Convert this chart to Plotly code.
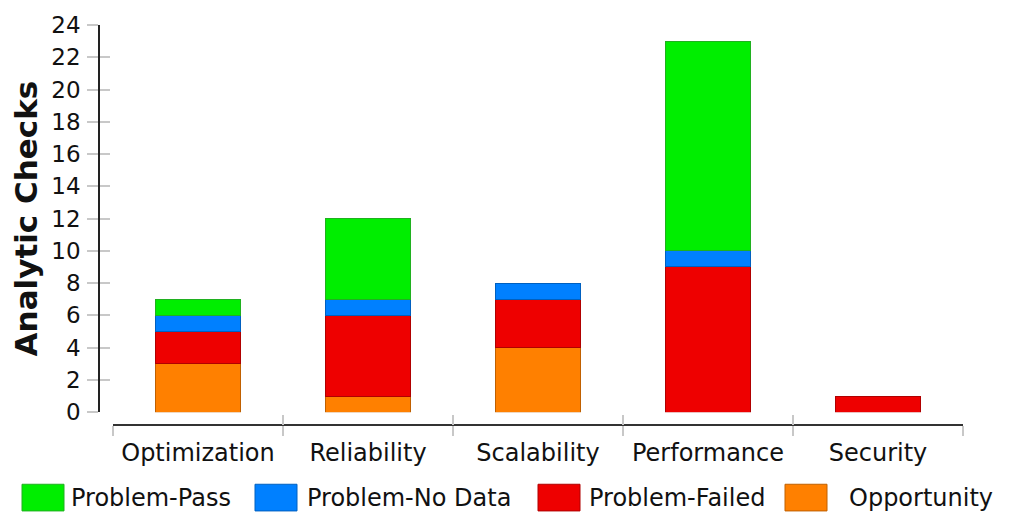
import plotly.graph_objects as go

categories = ["Optimization", "Reliability", "Scalability", "Performance", "Security"]
opportunity = [3, 1, 4, 0, 0]
problem_failed = [2, 5, 3, 9, 1]
problem_no_data = [1, 1, 1, 1, 0]
problem_pass = [1, 5, 0, 13, 0]

series_names = ["Opportunity", "Problem-Failed", "Problem-No Data", "Problem-Pass"]
series_values = [opportunity, problem_failed, problem_no_data, problem_pass]
series_colors = ["#FF8000", "#EE0000", "#0080FF", "#00EE00"]
series_edges = ["#C06000", "#B00000", "#0060C0", "#20B020"]
legend_order = ["Problem-Pass", "Problem-No Data", "Problem-Failed", "Opportunity"]
y_ticks = list(range(0, 25, 2))

W, H = 1010, 518
ML, MR, MT, MB = 99, 47, 20, 93
PW, PH = W - ML - MR, H - MT - MB

FONT = "DejaVu Sans"

fig = go.Figure()
for name, vals, col, edge in zip(series_names, series_values, series_colors, series_edges):
    fig.add_trace(go.Bar(
        x=categories, y=[v if v else None for v in vals], name=name,
        marker=dict(color=col, line=dict(color=edge, width=1)),
        showlegend=False,
    ))

# invisible helper trace for the overlay axes (inner tick halves)
fig.add_trace(go.Scatter(x=categories, y=[None] * len(categories), xaxis="x2", yaxis="y2",
                         mode="markers", showlegend=False, hoverinfo="skip"))

x_dom_start = (113 - ML) / PW
y_dom_start = (425 - 412) / PH

fig.update_layout(
    width=W, height=H,
    margin=dict(l=ML, r=MR, t=MT, b=MB),
    plot_bgcolor="white", paper_bgcolor="white",
    barmode="stack", bargap=0.5,
    font=dict(family=FONT, size=22, color="#111111"),
    xaxis=dict(
        domain=[x_dom_start, 1], anchor="free", position=0,
        type="category", categoryorder="array", categoryarray=categories,
        range=[-0.5, len(categories) - 0.5],
        showline=True, linecolor="#333333", linewidth=1.5,
        ticks="outside", tickson="boundaries", ticklen=10, tickcolor="#C8C8C8", tickwidth=1.5,
        showgrid=False, zeroline=False, ticklabelstandoff=6,
        tickfont=dict(family=FONT, size=24, color="#111111"),
    ),
    xaxis2=dict(
        overlaying="x", anchor="free", position=0,
        type="category", categoryorder="array", categoryarray=categories,
        range=[-0.5, len(categories) - 0.5],
        ticks="inside", tickson="boundaries", ticklen=10, tickcolor="#C8C8C8", tickwidth=1.5,
        showticklabels=False, showline=False, showgrid=False, zeroline=False,
    ),
    yaxis=dict(
        domain=[y_dom_start, 1], anchor="free", position=0,
        range=[0, 24], tickvals=y_ticks,
        showline=True, linecolor="#222222", linewidth=1.5,
        ticks="outside", ticklen=11, tickcolor="#C8C8C8", tickwidth=1.5,
        showgrid=False, zeroline=False, ticklabelstandoff=2,
        tickfont=dict(family=FONT, size=23, color="#111111"),
        title=dict(text="<b>Analytic Checks</b>", font=dict(family=FONT, size=31, color="#111111"), standoff=4),
    ),
    yaxis2=dict(
        overlaying="y", anchor="free", position=0,
        range=[0, 24], tickvals=y_ticks,
        ticks="inside", ticklen=10, tickcolor="#C8C8C8", tickwidth=1.5,
        showticklabels=False, showline=False, showgrid=False, zeroline=False,
    ),
)

# custom legend row (large swatches as in the reference)
legend_swatch_x = [22, 255, 538, 785]
legend_text_x = [69, 305, 587, 847]
shapes = []
for nm, sx, tx in zip(legend_order, legend_swatch_x, legend_text_x):
    i = series_names.index(nm)
    shapes.append(dict(type="rect", xref="paper", yref="paper",
                       x0=(sx - ML) / PW, x1=(sx + 42 - ML) / PW,
                       y0=(H - MB - 512) / PH, y1=(H - MB - 485) / PH,
                       fillcolor=series_colors[i], line=dict(color=series_edges[i], width=1)))
    fig.add_annotation(x=(tx - ML) / PW, y=(H - MB - 499) / PH, xref="paper", yref="paper",
                       text=nm, showarrow=False, xanchor="left", yanchor="middle",
                       font=dict(family=FONT, size=24, color="#111111"))
fig.update_layout(shapes=shapes)

fig.write_html("out.html", config={"displayModeBar": False},
               post_script="document.body.style.margin='0px';")
